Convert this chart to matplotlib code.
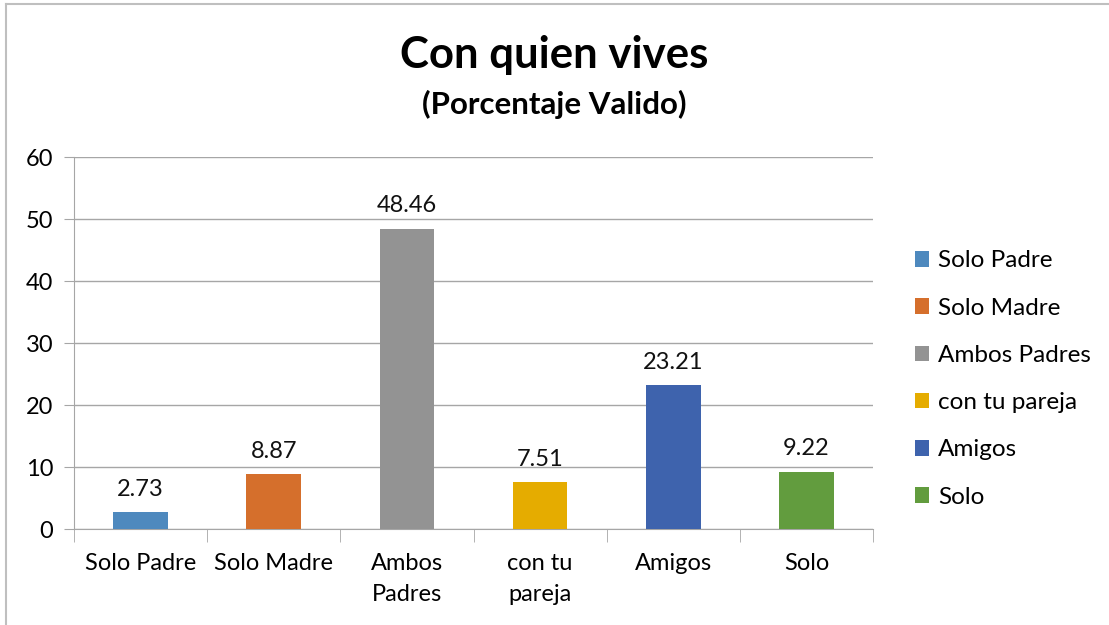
import matplotlib.pyplot as plt
from matplotlib.patches import Patch
from matplotlib.lines import Line2D

categorias = ["Solo Padre", "Solo Madre", "Ambos Padres", "con tu pareja", "Amigos", "Solo"]
etiquetas_eje = ["Solo Padre", "Solo Madre", "Ambos\nPadres", "con tu\npareja", "Amigos", "Solo"]
porcentajes = [2.73, 8.87, 48.46, 7.51, 23.21, 9.22]
colores = ["#4E89BE", "#D56F2C", "#939393", "#E5AC00", "#3E63AD", "#629C3E"]

plt.rcParams['font.family'] = ['Lato', 'DejaVu Sans']

fig = plt.figure(figsize=(11.09, 6.25), dpi=100)
ax = fig.add_axes([74 / 1109, 1 - 529 / 625, 799 / 1109, 372 / 625])

x = list(range(len(categorias)))
barras = ax.bar(x, porcentajes, width=0.41, color=colores, zorder=3)

for xi, v in zip(x, porcentajes):
    ax.text(xi, v + 2.0, f"{v:.2f}", ha='center', va='bottom', fontsize=17, color='#111111')

ax.set_xlim(-0.5, len(categorias) - 0.5)
ax.set_ylim(0, 60)
ax.set_yticks(range(0, 61, 10))
ax.tick_params(axis='y', labelsize=17, length=7, color='#a6a6a6', pad=8)
ax.yaxis.grid(True, color='#a6a6a6', linewidth=1, zorder=0)

# categorias en el centro, marcas entre categorias
ax.set_xticks(x)
ax.set_xticklabels(etiquetas_eje, fontsize=17, linespacing=1.6)
ax.tick_params(axis='x', length=0, pad=17)
ax.set_xticks([i - 0.5 for i in range(len(categorias) + 1)], minor=True)
ax.tick_params(axis='x', which='minor', length=9, color='#a6a6a6')

for s in ['top', 'right']:
    ax.spines[s].set_visible(False)
for s in ['left', 'bottom']:
    ax.spines[s].set_color('#a6a6a6')

fig.text(0.5, 1 - 55 / 625, "Con quien vives", ha='center', va='center', fontsize=31.5, fontweight='bold')
fig.text(0.5, 1 - 104 / 625, "(Porcentaje Valido)", ha='center', va='center', fontsize=22.5, fontweight='bold')

handles = [Patch(facecolor=c) for c in colores]
fig.legend(handles, categorias, loc='center left', bbox_to_anchor=(893 / 1109, 1 - 379 / 625),
           frameon=False, fontsize=17.5, handlelength=0.6, handleheight=0.6,
           handletextpad=0.35, labelspacing=1.08)

# borde del grafico
fig.add_artist(Line2D([6 / 1109, 6 / 1109], [0, 1 - 4 / 625], color='#bfbfbf', lw=1.5))
fig.add_artist(Line2D([6 / 1109, 1], [1 - 4 / 625, 1 - 4 / 625], color='#bfbfbf', lw=1.5))

plt.savefig("out.png", dpi=100)
